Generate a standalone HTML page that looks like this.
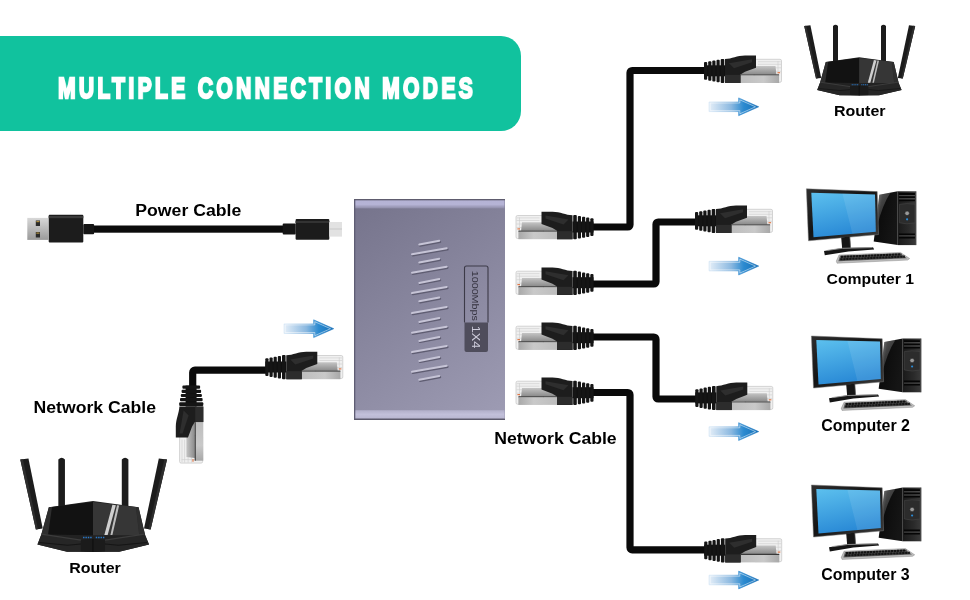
<!DOCTYPE html>
<html><head><meta charset="utf-8">
<style>
html,body{margin:0;padding:0;background:#fff;}
body{width:970px;height:600px;overflow:hidden;position:relative;font-family:"Liberation Sans",sans-serif;}
svg{position:absolute;left:0;top:0;will-change:transform;}
.t{font-family:"Liberation Sans",sans-serif;font-weight:bold;fill:#000;}
</style></head><body>
<svg width="970" height="600" viewBox="0 0 970 600">
<defs>
  <linearGradient id="boxg" gradientUnits="userSpaceOnUse" x1="354" y1="199" x2="505" y2="420">
    <stop offset="0" stop-color="#75738b"/>
    <stop offset="1" stop-color="#9e9cb4"/>
  </linearGradient>
  <linearGradient id="stripT" x1="0" y1="0" x2="0" y2="1">
    <stop offset="0" stop-color="#b4b2d4"/>
    <stop offset="0.5" stop-color="#b6b4d6"/>
    <stop offset="1" stop-color="#8e8ca8"/>
  </linearGradient>
  <linearGradient id="stripB" x1="0" y1="0" x2="0" y2="1">
    <stop offset="0" stop-color="#b0aec8"/>
    <stop offset="0.5" stop-color="#c2c0da"/>
    <stop offset="1" stop-color="#b8b6d0"/>
  </linearGradient>
  <linearGradient id="arrs" x1="0" y1="0" x2="1" y2="0">
    <stop offset="0" stop-color="#d4e6f6"/>
    <stop offset="0.5" stop-color="#7fb2de"/>
    <stop offset="0.62" stop-color="#2f8bd0"/>
    <stop offset="1" stop-color="#1a6fb8"/>
  </linearGradient>
  <linearGradient id="arrg" x1="0" y1="0" x2="1" y2="0">
    <stop offset="0" stop-color="#e4eef8"/>
    <stop offset="0.45" stop-color="#8ab8e0"/>
    <stop offset="0.7" stop-color="#2b8ad0"/>
    <stop offset="1" stop-color="#1470b8"/>
  </linearGradient>
  <linearGradient id="mt" x1="0" y1="0" x2="0" y2="1">
    <stop offset="0" stop-color="#c4c4c4"/>
    <stop offset="1" stop-color="#8a8a8a"/>
  </linearGradient>
  <linearGradient id="mb" x1="0" y1="0" x2="1" y2="0">
    <stop offset="0" stop-color="#bdbdbd"/>
    <stop offset="0.6" stop-color="#c9c9c9"/>
    <stop offset="1" stop-color="#a8a8a8"/>
  </linearGradient>
  <linearGradient id="scr" x1="0" y1="0" x2="0.3" y2="1">
    <stop offset="0" stop-color="#5cc0ee"/>
    <stop offset="1" stop-color="#2a8ad6"/>
  </linearGradient>
  <linearGradient id="tw" x1="0" y1="0" x2="1" y2="0.4">
    <stop offset="0" stop-color="#5a5a5a"/>
    <stop offset="0.35" stop-color="#0c0c0c"/>
    <stop offset="1" stop-color="#151515"/>
  </linearGradient>
  <linearGradient id="bez" x1="0" y1="0" x2="1" y2="1">
    <stop offset="0" stop-color="#2e2e2e"/>
    <stop offset="0.45" stop-color="#141414"/>
    <stop offset="1" stop-color="#3c3c3c"/>
  </linearGradient>
  <linearGradient id="twf" x1="0" y1="0" x2="1" y2="0">
    <stop offset="0" stop-color="#1a1a1a"/>
    <stop offset="0.6" stop-color="#2a2a2a"/>
    <stop offset="1" stop-color="#3a3a3a"/>
  </linearGradient>
  <linearGradient id="gl" x1="0" y1="0" x2="0.6" y2="1">
    <stop offset="0" stop-color="#ffffff" stop-opacity="0.35"/>
    <stop offset="1" stop-color="#ffffff" stop-opacity="0"/>
  </linearGradient>
  <linearGradient id="usbm" x1="0" y1="0" x2="0" y2="1">
    <stop offset="0" stop-color="#d8d8d8"/>
    <stop offset="1" stop-color="#9a9a9a"/>
  </linearGradient>

  <!-- RJ45 plug pointing right; origin = cable end, cable centre -->
  <symbol id="rj" overflow="visible">
    <rect x="50" y="-11" width="27.5" height="23" rx="1.5" fill="#f0f0f0" stroke="#c4c4c4" stroke-width="0.7"/>
    <path d="M54 -8.6 H76.6 M54 -6 H77 M66 -2.5 H77 M70 1 H77 M74 -9 V10" stroke="#cdcdcd" stroke-width="0.6" fill="none"/>
    <rect x="73.5" y="1.8" width="2.6" height="1.2" fill="#e07a4a"/>
    <path d="M36.5 -4.2 L71.5 -4.2 L72.4 4.2 L36.5 4.2 Z" fill="url(#mt)"/>
    <rect x="36.5" y="4.1" width="38.6" height="1.2" fill="#2a2a2a"/>
    <rect x="36.5" y="5.2" width="38.6" height="7.5" fill="url(#mb)"/>
    <path d="M21 -11.2 C28 -11.6 33 -14.6 41 -14.8 L52 -14.8 L52 -2.6 L41 1.5 L36.5 4.2 L36.5 12.7 L21 12.7 Z" fill="#1d1d1d"/>
    <path d="M25 -7 L48 -11 L48 -8 L30 -2 Z" fill="#2e2e2e"/>
    <rect x="21" y="4.6" width="15.5" height="8.1" fill="#2c2c2c"/>
    <rect x="0" y="-5" width="21" height="11" fill="#111"/>
    <rect x="0" y="-8.2" width="3.2" height="17.7" rx="1" fill="#151515"/>
    <rect x="4.2" y="-9" width="3.2" height="19.5" rx="1" fill="#151515"/>
    <rect x="8.3" y="-9.8" width="3.2" height="21.1" rx="1" fill="#151515"/>
    <rect x="12.5" y="-10.6" width="3.2" height="22.6" rx="1" fill="#151515"/>
    <rect x="16.7" y="-11.4" width="3.6" height="24.1" rx="1" fill="#151515"/>
  </symbol>

  <!-- arrow -->
  <symbol id="arr" overflow="visible">
    <path d="M0 -4.8 H29.6 V-8.9 L49.7 0 L29.6 8.9 V4.8 H0 Z" fill="url(#arrg)" stroke="url(#arrs)" stroke-width="0.6"/>
    <path d="M1.2 -3.8 H30.8 V-7 L46.5 0 L30.8 7 V3.8 H1.2 Z" fill="none" stroke="#ffffff" stroke-opacity="0.7" stroke-width="0.7"/>
  </symbol>

  <!-- router, local origin (804,24) of small router -->
  <symbol id="router" overflow="visible">
    <path d="M0.2 2 L6.4 1.2 L17.2 54 L12 54.6 Z" fill="#1c1c1c"/>
    <path d="M0.2 2 L2.2 1.8 L13.6 54.4 L12 54.6 Z" fill="#2e2e2e"/>
    <path d="M29 2 Q31.5 -0.5 34 2 V38 H29 Z" fill="#1c1c1c"/>
    <path d="M77 2 Q79.5 -0.5 82 2 V38 H77 Z" fill="#1c1c1c"/>
    <path d="M105 1.2 L111.2 2 L98.8 54.6 L93.8 54 Z" fill="#1c1c1c"/>
    <path d="M109.2 1.8 L111.2 2 L98.8 54.6 L97.2 54.4 Z" fill="#2e2e2e"/>
    <path d="M21.8 38 L55.2 33.2 L89.7 38 L94.5 58.2 L97.6 66 L75 71.3 L55.2 71.6 L35.6 71.3 L13.2 66 L16.2 58.2 Z" fill="#222"/>
    <path d="M21.8 38 L24.3 37.7 L21.3 58.4 L16.2 58.2 Z" fill="#2e2e2e"/>
    <path d="M87.7 37.7 L89.7 38 L94.5 58.2 L90.2 58.9 Z" fill="#2e2e2e"/>
    <path d="M24.3 37.7 L55.2 34 L55.2 58.9 L21.3 58.4 Z" fill="#121212"/>
    <path d="M55.2 34 L87.7 37.7 L90.2 58.9 L55.2 58.9 Z" fill="#363636"/>
    <path d="M69.9 36.1 L72.5 36.4 L66.3 58.8 L63.8 58.8 Z" fill="#cfcfcf"/>
    <path d="M73.4 36.5 L75 36.7 L69.9 58.8 L68.4 58.8 Z" fill="#bdbdbd"/>
    <path d="M16.2 58.2 L46.1 62.6 L46.1 71.2 L35.6 71.3 L13.2 66 Z" fill="#262626"/>
    <path d="M94.2 58.2 L64.3 62.6 L64.3 71.2 L75 71.3 L97.6 66 Z" fill="#262626"/>
    <path d="M16.2 58.2 L46.1 62.6 M94.2 58.2 L64.3 62.6" stroke="#3c3c3c" stroke-width="1" fill="none"/>
    <path d="M14.5 64.5 L36 66.5 L46.1 65.5 M96 64.5 L74.5 66.5 L64.3 65.5" stroke="#151515" stroke-width="0.8" fill="none"/>
    <path d="M46.1 62.6 L55.2 61.6 L64.3 62.6 L64.3 71.2 L55.2 71.6 L46.1 71.2 Z" fill="#1b1b1b"/>
    <path d="M55.2 61.8 V71.5" stroke="#0c0c0c" stroke-width="0.7"/>
    <path d="M47.7 60.7 H54.2 M57.3 60.7 H63.8" stroke="#2a78c8" stroke-width="1.1" stroke-dasharray="1.1 0.7"/>
  </symbol>

  <!-- computer, local origin = monitor top-left -->
  <symbol id="pc" overflow="visible">
    <path d="M72.9 6 L91.3 2.5 L91.3 56.3 L67.3 52.8 Z" fill="url(#tw)"/>
    <path d="M72.9 6 L84 3.9 Q76 16 70.5 38 L68 50 Z" fill="url(#gl)"/>
    <rect x="91.3" y="2.5" width="18.4" height="53.8" fill="url(#twf)"/>
    <path d="M92.5 5.2 H108.5 M92.5 8.4 H108.5 M92.5 11.6 H108.5 M92.5 45.5 H108.5 M92.5 48.7 H108.5" stroke="#050505" stroke-width="1.8"/>
    <path d="M92.5 6.8 H108.5 M92.5 10 H108.5 M92.5 47.1 H108.5" stroke="#666" stroke-width="0.6"/>
    <path d="M93 15.5 Q100.5 14 108.5 15.5 V34 Q100.5 36 93 34 Z" fill="#2c2c2c" stroke="#4a4a4a" stroke-width="0.5"/>
    <circle cx="100.7" cy="24.5" r="2.3" fill="#9a9a9a" stroke="#222" stroke-width="0.6"/>
    <circle cx="100.7" cy="30.5" r="1.1" fill="#2a8ad6"/>
    <path d="M109.7 2.5 V56.3" stroke="#666" stroke-width="0.7"/>
    <path d="M0 0 L70.8 2.8 L72.2 45.7 L2.1 52 Z" fill="url(#bez)"/>
    <path d="M0 0 L70.8 2.8 L72.2 45.7 L2.1 52 Z" fill="none" stroke="#777" stroke-width="0.5"/>
    <path d="M4.9 3.9 L68.6 5.6 L69.4 42.9 L7.1 48.5 Z" fill="url(#scr)"/>
    <path d="M36 4.7 L68.6 5.6 L69.4 42.9 L46 45 Z" fill="#ffffff" fill-opacity="0.09"/>
    <circle cx="38.5" cy="49.4" r="0.9" fill="#3aa0e8"/>
    <path d="M34.8 48.6 L43.4 47.8 L44.2 59.6 L35.8 60.2 Z" fill="#161616"/>
    <path d="M43.4 47.8 L44.2 59.6" stroke="#555" stroke-width="0.7"/>
    <path d="M17.6 62.2 L36 59.2 L66.6 58.4 L67.8 60.6 L42 62.6 L18.4 66.4 Z" fill="#161616"/>
    <path d="M21 61.6 L36 59.5 L66 58.8" stroke="#9a9a9a" stroke-width="0.9" fill="none"/>
    <path d="M32.6 66.2 L94 63.6 L103.3 69.8 L101.2 71.3 L30.6 74.4 L29.9 72.3 Z" fill="#bdbdbd" stroke="#777" stroke-width="0.4"/>
    <path d="M33.6 66.9 L93.5 64.4 L100.6 69.4 L32 72.4 Z" fill="#5a5a5a"/>
    <path d="M34.6 68.1 L95 65.5 M33.8 70.5 L98.5 67.8" stroke="#141414" stroke-width="2.1" stroke-dasharray="2.5 0.5"/>
  </symbol>
</defs>

<!-- banner -->
<path d="M0 36 H501 A20 20 0 0 1 521 56 V111 A20 20 0 0 1 501 131 H0 Z" fill="#11c29e"/>

<!-- power cable -->
<rect x="90" y="225.5" width="196" height="7.2" fill="#0b0b0b"/>
<rect x="27.3" y="217.9" width="21" height="22" fill="url(#usbm)"/>
<rect x="35.8" y="220.5" width="4.2" height="5.5" fill="#2a2a2a"/>
<rect x="35.8" y="232" width="4.2" height="5.5" fill="#2a2a2a"/>
<rect x="36.3" y="221" width="3.2" height="1.2" fill="#b09040"/>
<rect x="36.3" y="232.5" width="3.2" height="1.2" fill="#b09040"/>
<rect x="48.7" y="214.8" width="34.6" height="27.8" rx="1" fill="#1c1c1c"/>
<rect x="48.7" y="216" width="34.6" height="2.2" fill="#3a3a3a"/>
<rect x="83.3" y="224" width="10.8" height="10.3" rx="1" fill="#151515"/>
<rect x="282.7" y="223.5" width="13" height="11" rx="1" fill="#151515"/>
<rect x="295.6" y="219" width="33.7" height="20.7" rx="1" fill="#1c1c1c"/>
<rect x="295.6" y="221" width="33.7" height="2" fill="#333"/>
<rect x="329.3" y="222" width="12.7" height="14.6" fill="#e2e2e2"/>
<rect x="329.3" y="228.5" width="12.7" height="1" fill="#c8c8c8"/>

<!-- device -->
<rect x="354" y="199" width="151" height="221" rx="2" fill="url(#boxg)"/>
<rect x="354" y="199" width="151" height="1.5" fill="#5e5c6e"/>
<rect x="354.5" y="200.4" width="150" height="8" fill="url(#stripT)"/>
<rect x="354.5" y="410.2" width="150" height="8.4" fill="url(#stripB)"/>
<rect x="354" y="418.6" width="151" height="1.4" fill="#5c5a6c"/>
<rect x="354" y="200" width="1.3" height="219" fill="#5f5d74"/>
<!-- grooves -->
<g stroke-linecap="round" fill="none">
  <g stroke="#5f5d72" stroke-width="2.2" transform="translate(0.8,1.1)"><path d="M419.3 244.5 L439.3 240.8"/><path d="M412 254.2 L446.7 248.2"/><path d="M419.3 262.5 L439.3 258.8"/><path d="M412 272.7 L446.7 266.7"/><path d="M419.3 282.9 L439.3 279.1"/><path d="M412 293.0 L446.7 287.0"/><path d="M419.3 301.2 L439.3 297.5"/><path d="M412 313.0 L446.7 307.0"/><path d="M419.3 321.9 L439.3 318.1"/><path d="M412 332.7 L446.7 326.7"/><path d="M419.3 340.9 L439.3 337.1"/><path d="M412 352.0 L446.7 346.0"/><path d="M419.3 360.9 L439.3 357.1"/><path d="M412 371.8 L446.7 365.8"/><path d="M419.3 379.8 L439.3 376.0"/></g>
  <g stroke="#c6c4d6" stroke-width="2"><path d="M419.3 244.5 L439.3 240.8"/><path d="M412 254.2 L446.7 248.2"/><path d="M419.3 262.5 L439.3 258.8"/><path d="M412 272.7 L446.7 266.7"/><path d="M419.3 282.9 L439.3 279.1"/><path d="M412 293.0 L446.7 287.0"/><path d="M419.3 301.2 L439.3 297.5"/><path d="M412 313.0 L446.7 307.0"/><path d="M419.3 321.9 L439.3 318.1"/><path d="M412 332.7 L446.7 326.7"/><path d="M419.3 340.9 L439.3 337.1"/><path d="M412 352.0 L446.7 346.0"/><path d="M419.3 360.9 L439.3 357.1"/><path d="M412 371.8 L446.7 365.8"/><path d="M419.3 379.8 L439.3 376.0"/></g>
</g>
<!-- label -->
<path d="M464.5 322.5 V268 Q464.5 266 466.5 266 H486 Q488 266 488 268 V322.5" fill="none" stroke="#3c3a48" stroke-width="1.1"/>
<path d="M464.5 322.5 H488 V350 Q488 352 486 352 H466.5 Q464.5 352 464.5 350 Z" fill="#4f4d5c"/>
<text transform="translate(471.8,270.8) rotate(90)" font-size="8.2" textLength="50" lengthAdjust="spacingAndGlyphs" style="font-family:'Liberation Sans',sans-serif;fill:#34323f">1000Mbps</text>
<text transform="translate(471.8,325.8) rotate(90)" font-size="10.4" textLength="22.5" lengthAdjust="spacingAndGlyphs" style="font-family:'Liberation Sans',sans-serif;fill:#cfcddc">1X4</text>

<!-- cables -->
<g fill="none" stroke="#0a0a0a" stroke-width="7.2">
  <path d="M592 227 L627.80 227.00 A2.2 2.2 0 0 0 630.00 224.80 L630.00 72.70 A2.2 2.2 0 0 1 632.20 70.50 L706 70.5"/>
  <path d="M592 284 L653.80 284.00 A2.2 2.2 0 0 0 656.00 281.80 L656.00 224.20 A2.2 2.2 0 0 1 658.20 222.00 L697 222"/>
  <path d="M592 337 L653.80 337.00 A2.2 2.2 0 0 1 656.00 339.20 L656.00 396.80 A2.2 2.2 0 0 0 658.20 399.00 L697 399"/>
  <path d="M592 392.5 L627.80 392.50 A2.2 2.2 0 0 1 630.00 394.70 L630.00 547.60 A2.2 2.2 0 0 0 632.20 549.80 L706 549.8"/>
  <path d="M267 370.2 L194.90 370.20 A2.2 2.2 0 0 0 192.70 372.40 L192.7 388"/>
</g>

<!-- connectors at device (pointing left) -->
<use href="#rj" transform="translate(593.5,226.5) scale(-1,1)"/>
<use href="#rj" transform="translate(593.5,282.2) scale(-1,1)"/>
<use href="#rj" transform="translate(593.5,337.2) scale(-1,1)"/>
<use href="#rj" transform="translate(593.5,392.2) scale(-1,1)"/>
<!-- connectors to devices (pointing right) -->
<use href="#rj" transform="translate(704,70.3)"/>
<use href="#rj" transform="translate(695,220.3)"/>
<use href="#rj" transform="translate(695.3,397.4)"/>
<use href="#rj" transform="translate(704.2,549.7)"/>
<!-- left side -->
<use href="#rj" transform="translate(265.3,366.5)"/>
<use href="#rj" transform="translate(190.6,385.6) rotate(-90) scale(-1,1)"/>

<!-- arrows -->
<use href="#arr" transform="translate(709,106.8)"/>
<use href="#arr" transform="translate(709,266.1)"/>
<use href="#arr" transform="translate(709,431.6)"/>
<use href="#arr" transform="translate(709,580)"/>
<use href="#arr" transform="translate(284,328.7)"/>

<!-- routers -->
<use href="#router" transform="translate(804,24)"/>
<use href="#router" transform="translate(20,456.8) scale(1.322,1.33)"/>

<!-- computers -->
<use href="#pc" transform="translate(806.4,188.8)"/>
<use href="#pc" transform="translate(811.4,336)"/>
<use href="#pc" transform="translate(811.4,485)"/>

<!-- labels -->
<text class="t" x="135.3" y="216.4" font-size="17.2" textLength="106" lengthAdjust="spacingAndGlyphs">Power Cable</text>
<text class="t" x="33.5" y="412.8" font-size="17.3" textLength="122.5" lengthAdjust="spacingAndGlyphs">Network Cable</text>
<text class="t" x="494.2" y="443.8" font-size="17.3" textLength="122.5" lengthAdjust="spacingAndGlyphs">Network Cable</text>
<text class="t" x="834" y="115.6" font-size="15.2" textLength="51.5" lengthAdjust="spacingAndGlyphs">Router</text>
<text class="t" x="69.3" y="572.6" font-size="15.2" textLength="51.5" lengthAdjust="spacingAndGlyphs">Router</text>
<text class="t" x="826.6" y="283.6" font-size="15.4" textLength="87.5" lengthAdjust="spacingAndGlyphs">Computer 1</text>
<text class="t" x="821.2" y="430.5" font-size="15.6" textLength="88.8" lengthAdjust="spacingAndGlyphs">Computer 2</text>
<text class="t" x="821.2" y="579.5" font-size="15.6" textLength="88.5" lengthAdjust="spacingAndGlyphs">Computer 3</text>
</svg>
<div id="title" style="position:absolute;left:58px;top:71px;height:34px;line-height:34px;font-family:'Liberation Sans',sans-serif;font-weight:bold;font-size:30px;color:#fff;white-space:nowrap;transform-origin:0 0;transform:scaleX(0.70);letter-spacing:4.85px;-webkit-text-stroke:2.4px #fff;will-change:transform;">MULTIPLE CONNECTION MODES</div>
</body></html>
